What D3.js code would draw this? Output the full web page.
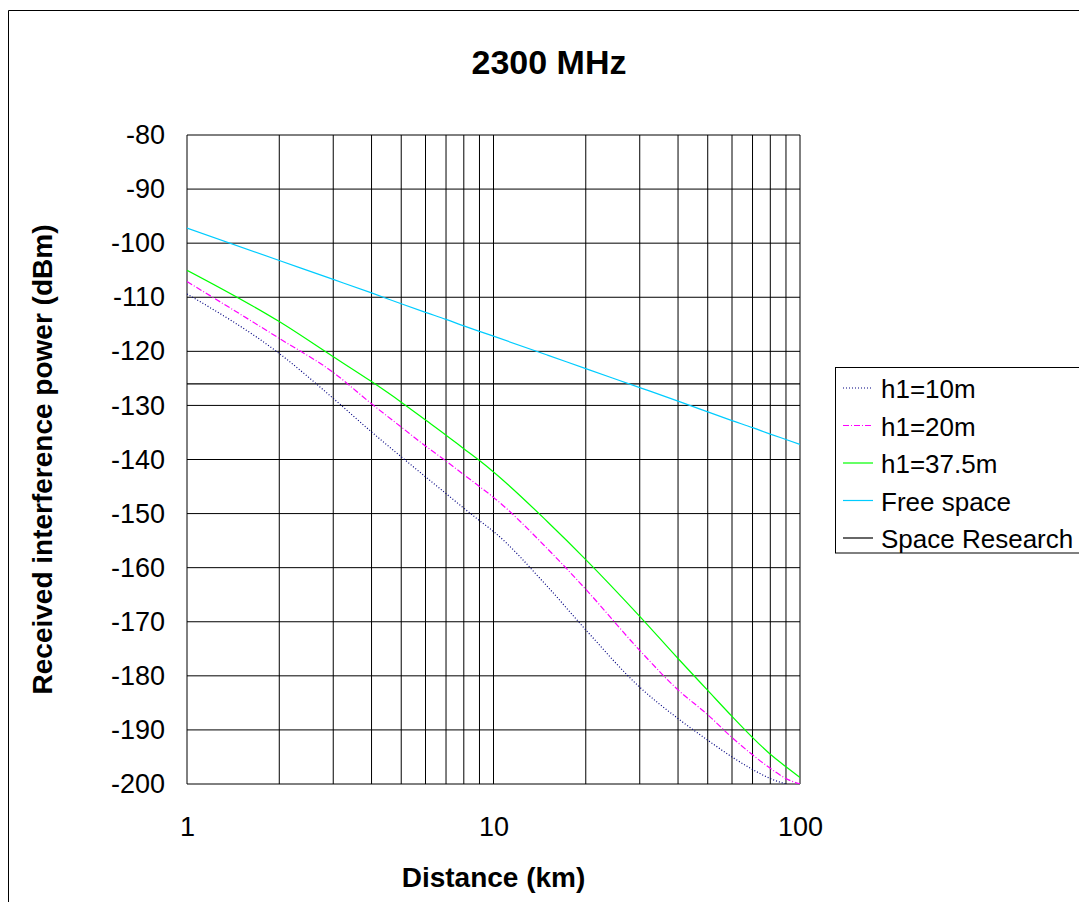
<!DOCTYPE html>
<html>
<head>
<meta charset="utf-8">
<script src="https://cdn.jsdelivr.net/npm/d3@7"></script>
<style>
  html, body { margin: 0; padding: 0; background: #fff; }
  svg { display: block; }
  text { font-family: "Liberation Sans", Arial, sans-serif; fill: #000; }
</style>
</head>
<body>
<svg id="chart" width="1079" height="902"></svg>
<script>
// Received interference power vs distance at 2300 MHz
const title = "2300 MHz";
const xTitle = "Distance (km)";
const yTitle = "Received interference power (dBm)";

const distances = [1, 2, 3, 4, 5, 6, 7, 8, 9, 10, 15, 20, 30, 40, 50, 60, 70, 80, 90, 100];
const h1_10m  = [-109.4, -120.4, -128.7, -134.9, -139.5, -143.2, -146.3, -149.0, -151.3, -153.3, -163.5, -171.5, -182.1, -187.9, -191.9, -195.0, -197.3, -199.0, -200.0, null];
const h1_20m  = [-107.1, -117.6, -123.9, -129.7, -134.0, -137.5, -140.3, -142.8, -145.0, -147.0, -156.5, -164.0, -175.3, -182.6, -187.2, -191.4, -194.6, -197.1, -199.0, -200.0];
const h1_37m  = [-105.0, -114.5, -121.0, -125.6, -129.4, -132.7, -135.5, -138.0, -140.2, -142.3, -151.5, -158.5, -169.0, -176.8, -182.7, -187.5, -191.4, -194.5, -196.8, -198.8];
const freeSpace = [-97.2, -103.2, -106.7, -109.2, -111.2, -112.8, -114.1, -115.3, -116.3, -117.2, -120.7, -123.2, -126.7, -129.2, -131.2, -132.8, -134.1, -135.3, -136.3, -137.2];
const spaceResearch = [-126, -126, -126, -126, -126, -126, -126, -126, -126, -126, -126, -126, -126, -126, -126, -126, -126, -126, -126, -126];

const seriesNames = ["h1=10m", "h1=20m", "h1=37.5m", "Free space", "Space Research"];
const seriesValues = [h1_10m, h1_20m, h1_37m, freeSpace, spaceResearch];
const seriesColors = ["#000080", "#ff00ff", "#00ff00", "#00ccff", "#000000"];
const seriesDash = ["1,2", "6,2,1,2", null, null, null];

const xTicks = [1, 10, 100];
const yTicks = [-80, -90, -100, -110, -120, -130, -140, -150, -160, -170, -180, -190, -200];

const svg = d3.select("#chart");

// outer chart frame
svg.append("path")
  .attr("d", "M8.5,902 V10.5 H1079")
  .attr("fill", "none").attr("stroke", "#000").attr("stroke-width", 1);

const plot = { left: 187, right: 800, top: 135, bottom: 784 };

const x = d3.scaleLog().domain([1, 100]).range([plot.left, plot.right]);
const y = d3.scaleLinear().domain([-200, -80]).range([plot.bottom, plot.top]);

// grid lines
const xGrid = [];
for (let dec = 1; dec < 100; dec *= 10) for (let k = 1; k < 10; k++) xGrid.push(dec * k);
xGrid.push(100);

const grid = svg.append("g");
grid.selectAll("line.v").data(xGrid).join("line")
  .attr("x1", d => x(d)).attr("x2", d => x(d))
  .attr("y1", plot.top).attr("y2", plot.bottom)
  .attr("stroke", "#000").attr("stroke-width", 1);
grid.selectAll("line.h").data(yTicks).join("line")
  .attr("x1", plot.left).attr("x2", plot.right)
  .attr("y1", d => y(d)).attr("y2", d => y(d))
  .attr("stroke", "#000").attr("stroke-width", 1);

// axes labels (plain hyphen-minus)
const fmt = d => String(d);
const yAxis = d3.axisLeft(y).tickValues(yTicks).tickSize(0).tickPadding(22).tickFormat(fmt);
const gy = svg.append("g").attr("transform", `translate(${plot.left},0)`).call(yAxis);
gy.select(".domain").remove();
gy.selectAll("text").style("font-size", "27px").attr("font-family", null);

const xAxis = d3.axisBottom(x).tickValues(xTicks).tickSize(0).tickPadding(33).tickFormat(fmt);
const gx = svg.append("g").attr("transform", `translate(0,${plot.bottom})`).call(xAxis);
gx.select(".domain").remove();
gx.selectAll("text").style("font-size", "27px").attr("font-family", null);

// series lines
svg.append("clipPath").attr("id", "plotClip")
  .append("rect").attr("x", plot.left).attr("y", plot.top)
  .attr("width", plot.right - plot.left).attr("height", plot.bottom - plot.top);

const line = d3.line()
  .defined(d => d[1] !== null)
  .curve(d3.curveMonotoneX)
  .x(d => x(d[0])).y(d => y(d[1]));

const lines = svg.append("g").attr("clip-path", "url(#plotClip)");
// space research first, then the curves on top
const drawOrder = [4, 3, 2, 1, 0];
drawOrder.forEach(i => {
  const pts = distances.map((d, j) => [d, seriesValues[i][j]]);
  lines.append("path")
    .datum(pts)
    .attr("d", line)
    .attr("fill", "none")
    .attr("stroke", seriesColors[i])
    .attr("stroke-width", i === 4 ? 1.3 : 1.2)
    .attr("stroke-dasharray", seriesDash[i]);
});

// titles
svg.append("text").attr("x", 549).attr("y", 74)
  .attr("text-anchor", "middle").style("font-size", "34px").style("font-weight", "bold")
  .text(title);

svg.append("text").attr("x", 493.5).attr("y", 887)
  .attr("text-anchor", "middle").style("font-size", "28px").style("font-weight", "bold")
  .text(xTitle);

svg.append("text")
  .attr("transform", `translate(52,${(plot.top + plot.bottom) / 2}) rotate(-90)`)
  .attr("text-anchor", "middle").style("font-size", "28px").style("font-weight", "bold")
  .text(yTitle);

// legend
const legend = svg.append("g");
legend.append("rect")
  .attr("x", 835.5).attr("y", 367.5).attr("width", 260).attr("height", 185.5)
  .attr("fill", "#fff").attr("stroke", "#000").attr("stroke-width", 1);

seriesNames.forEach((name, i) => {
  const cy = 388 + i * 37.5;
  legend.append("line")
    .attr("x1", 843).attr("x2", 873).attr("y1", cy).attr("y2", cy)
    .attr("stroke", seriesColors[i]).attr("stroke-width", 1.2)
    .attr("stroke-dasharray", seriesDash[i]);
  legend.append("text")
    .attr("x", 881).attr("y", cy + 10)
    .style("font-size", "26px")
    .text(name);
});
</script>
</body>
</html>
